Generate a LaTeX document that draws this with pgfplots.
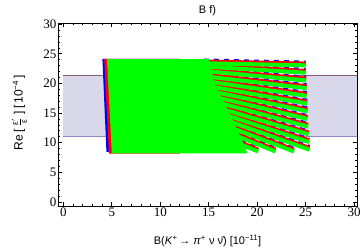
\documentclass[border=0pt]{standalone}
\usepackage{fontspec}
\setmainfont{Liberation Sans}
\newfontfamily\tickfont{Liberation Serif}
\usepackage{pgfplots}
\pgfplotsset{compat=1.18}
\definecolor{bandfill}{RGB}{216,216,234}
\definecolor{bandup}{RGB}{140,92,118}
\definecolor{bandlow}{RGB}{140,140,200}
\definecolor{mgreen}{RGB}{0,255,0}
\definecolor{mred}{RGB}{255,0,0}
\definecolor{mblue}{RGB}{0,0,255}
\pgfplotsset{
  gs/.style={mgreen, line width=4pt},
  rs/.style={mred, line width=4pt},
  bs/.style={mblue, line width=4pt, dash pattern=on 5pt off 5pt},
}
\begin{document}
\begin{tikzpicture}
\path[use as bounding box] (-58pt,-44pt) rectangle (302pt,206pt);
\begin{axis}[
  scale only axis, width=299pt, height=183pt,
  xmin=-0.55, xmax=30.3, ymin=-0.7, ymax=30.2,
  axis line style={line width=0.6pt},
  xtick={0,5,...,30}, ytick={0,5,...,30},
  minor x tick num=4, minor y tick num=4,
  tick align=inside,
  major tick length=4pt, minor tick length=2.4pt,
  tick style={line width=0.6pt, black},
  /pgf/number format/assume math mode=true,
  tick label style={font=\tickfont\fontsize{13}{13}\selectfont, inner sep=1.5pt},
  every axis title/.style={at={(axis description cs:0.5,1)}, anchor=base, yshift=10pt, font=\fontsize{11}{12}\selectfont},
  every axis x label/.style={at={(axis description cs:0.5,-0.2077)}, anchor=base, font=\fontsize{11}{12}\selectfont},
  every axis y label/.style={at={(axis description cs:-0.118,0.51)}, anchor=base, rotate=90, font=\fontsize{12}{12}\selectfont},
  title={B f)},
  xlabel={B(\textit{K}\textsuperscript{+}\,→ \textit{π}\textsuperscript{+} ν ν̄) [10\textsuperscript{−11}]},
  ylabel={Re\,[\;$\frac{\mbox{\fontsize{8.5}{8.5}\selectfont ε$'$}}{\mbox{\fontsize{8.5}{8.5}\selectfont ε}}$\;]\,[\,10\textsuperscript{−4}\,]},
]
% band
\addplot[fill=bandfill, draw=none] coordinates {(0,11.0) (30.3,11.0) (30.3,21.4) (0,21.4)};
\addplot[bandup, line width=1pt] coordinates {(0,21.4) (30.3,21.4)};
\addplot[bandlow, line width=1pt] coordinates {(0,11.0) (30.3,11.0)};
% blue layer
\addplot[fill=mblue, draw=none] coordinates {(4.03,24.15) (12,24.15) (12,8.3) (4.45,8.45)};
\addplot[bs] coordinates {(14.5,23.87) (25.0,23.52)};
\addplot[bs] coordinates {(14.5,23.32) (25.0,22.27)};
\addplot[bs] coordinates {(14.5,22.55) (25.05,20.97)};
\addplot[bs] coordinates {(14.5,21.69) (25.1,19.67)};
\addplot[bs] coordinates {(14.5,20.91) (25.1,18.37)};
\addplot[bs] coordinates {(14.5,20.16) (25.15,17.07)};
\addplot[bs] coordinates {(14.5,19.41) (25.2,15.77)};
\addplot[bs] coordinates {(14.5,18.65) (25.2,14.47)};
\addplot[bs] coordinates {(14.5,17.90) (25.25,13.17)};
\addplot[bs] coordinates {(14.5,17.05) (25.3,11.87)};
\addplot[bs] coordinates {(14.5,16.33) (25.35,10.57)};
\addplot[bs] coordinates {(14.5,15.60) (25.4,9.27)};
\addplot[bs] coordinates {(14.5,14.74) (23.8,8.97)};
\addplot[bs] coordinates {(14.5,13.80) (21.9,8.97)};
\addplot[bs] coordinates {(14.5,12.75) (20.1,8.97)};
% red layer
\addplot[fill=mred, draw=none] coordinates {(4.22,24.15) (12,24.15) (12,8.15) (4.7,8.15)};
\addplot[rs] coordinates {(14.5,23.70) (25.0,23.35)};
\addplot[rs] coordinates {(14.5,23.15) (25.0,22.1)};
\addplot[rs] coordinates {(14.5,22.39) (25.05,20.8)};
\addplot[rs] coordinates {(14.5,21.52) (25.1,19.5)};
\addplot[rs] coordinates {(14.5,20.74) (25.1,18.2)};
\addplot[rs] coordinates {(14.5,19.99) (25.15,16.9)};
\addplot[rs] coordinates {(14.5,19.24) (25.2,15.6)};
\addplot[rs] coordinates {(14.5,18.48) (25.2,14.3)};
\addplot[rs] coordinates {(14.5,17.73) (25.25,13.0)};
\addplot[rs] coordinates {(14.5,16.88) (25.3,11.7)};
\addplot[rs] coordinates {(14.5,16.16) (25.35,10.4)};
\addplot[rs] coordinates {(14.5,15.43) (25.4,9.1)};
\addplot[rs] coordinates {(14.5,14.57) (23.8,8.8)};
\addplot[rs] coordinates {(14.5,13.63) (21.9,8.8)};
\addplot[rs] coordinates {(14.5,12.58) (20.1,8.8)};
% green layer
\addplot[gs] coordinates {(14.5,23.40) (25.0,23.05)};
\addplot[gs] coordinates {(14.5,22.85) (25.0,21.8)};
\addplot[gs] coordinates {(14.5,22.09) (25.05,20.5)};
\addplot[gs] coordinates {(14.5,21.22) (25.1,19.2)};
\addplot[gs] coordinates {(14.5,20.44) (25.1,17.9)};
\addplot[gs] coordinates {(14.5,19.69) (25.15,16.6)};
\addplot[gs] coordinates {(14.5,18.94) (25.2,15.3)};
\addplot[gs] coordinates {(14.5,18.18) (25.2,14.0)};
\addplot[gs] coordinates {(14.5,17.43) (25.25,12.7)};
\addplot[gs] coordinates {(14.5,16.58) (25.3,11.4)};
\addplot[gs] coordinates {(14.5,15.86) (25.35,10.1)};
\addplot[gs] coordinates {(14.5,15.13) (25.4,8.8)};
\addplot[gs] coordinates {(14.5,14.27) (23.8,8.5)};
\addplot[gs] coordinates {(14.5,13.33) (21.9,8.5)};
\addplot[gs] coordinates {(14.5,12.28) (20.1,8.5)};
\addplot[fill=mgreen, draw=none] coordinates {(4.5,24.1) (15,24.1) (15.3,22) (15.6,20) (16.5,17) (17.3,14.3) (18.3,11) (19,8.2) (5.0,8.2)};
\end{axis}
\end{tikzpicture}
\end{document}
